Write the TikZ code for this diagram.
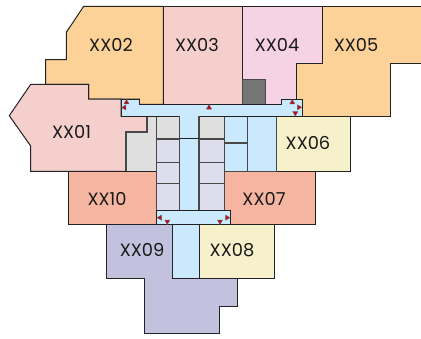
\documentclass[tikz,border=0pt]{standalone}
\usepackage{fontspec}
\setmainfont{Poppins}
\definecolor{orng}{HTML}{FCD299}
\definecolor{pnk}{HTML}{F5CFCB}
\definecolor{mgn}{HTML}{F6D2E5}
\definecolor{crm}{HTML}{F6F0CB}
\definecolor{slm}{HTML}{F5B5A0}
\definecolor{prp}{HTML}{C2C1DE}
\definecolor{blu}{HTML}{CAE9FC}
\definecolor{gry}{HTML}{DFDFDF}
\definecolor{lav}{HTML}{DEDDED}
\definecolor{drk}{HTML}{757575}
\definecolor{edge}{HTML}{222222}
\definecolor{inner}{HTML}{484848}
\definecolor{mark}{HTML}{D00010}
\tikzset{
  room/.style={draw=edge,line width=1pt,line join=miter},
  cell/.style={draw=inner,line width=1.2pt},
  lab/.style={font=\fontsize{17.8}{18}\selectfont,text=black!90,inner sep=0pt},
  tick/.style={fill=mark,draw=black!60,line width=0.5pt}
}
\newcommand{\tup}[2]{\path[tick] (#1-2.5,#2+2.2) -- (#1+2.5,#2+2.2) -- (#1,#2-2.2) -- cycle;}
\newcommand{\tdn}[2]{\path[tick] (#1-2.5,#2-2.2) -- (#1+2.5,#2-2.2) -- (#1,#2+2.2) -- cycle;}
\newcommand{\tlf}[2]{\path[tick] (#1+2.2,#2-2.5) -- (#1+2.2,#2+2.5) -- (#1-2.2,#2) -- cycle;}
\newcommand{\trt}[2]{\path[tick] (#1-2.2,#2-2.5) -- (#1-2.2,#2+2.5) -- (#1+2.2,#2) -- cycle;}
\begin{document}
\begin{tikzpicture}[x=1pt,y=-1pt]
\useasboundingbox (0,0) rectangle (421,338);
\fill[white] (0,0) rectangle (421,338);
% rooms
\draw[room,fill=orng] (83.7,6.3) -- (163.3,6.3) -- (163.3,104.3) -- (139.3,104.3) -- (139.3,99) -- (88.7,99) -- (88.7,84.3) -- (45.7,84.3) -- (45.7,59.7) -- (66.3,59.7) -- (66.3,32.3) -- cycle;
\draw[room,fill=pnk] (163.3,6.3) rectangle (242.3,104.3);
\draw[room,fill=mgn] (242.3,6.3) -- (322.3,6.3) -- (322.3,63.3) -- (296.3,63.3) -- (296.3,99) -- (281,99) -- (281,104.3) -- (242.3,104.3) -- cycle;
\draw[room,fill=orng] (322.3,6.3) -- (422,6.3) -- (422,63.3) -- (390.7,63.3) -- (390.7,116.3) -- (302,116.3) -- (302,99) -- (296.3,99) -- (296.3,63.3) -- (322.3,63.3) -- cycle;
\draw[cell,fill=drk] (242.3,79.7) rectangle (265.7,104.3);
\draw[room,fill=pnk] (30.7,84.3) -- (88.7,84.3) -- (88.7,99) -- (121,99) -- (121,116.3) -- (147,116.3) -- (147,132) -- (126,132) -- (126,171.3) -- (30.7,171.3) -- (30.7,146) -- (9.3,115.7) -- cycle;
\draw[cell,fill=gry] (126,132) -- (147,132) -- (147,116.3) -- (156.7,116.3) -- (156.7,171.3) -- (126,171.3) -- cycle;
\draw[room,fill=crm] (276.3,116.3) rectangle (350.3,171.3);
\draw[room,fill=slm] (68.3,171.3) rectangle (156.7,224.7);
\draw[room,fill=slm] (224.7,171.3) -- (315,171.3) -- (315,224.7) -- (230.3,224.7) -- (230.3,210.3) -- (224.7,210.3) -- cycle;
\draw[room,fill=prp] (106.7,224.7) -- (172.3,224.7) -- (172.3,278.3) -- (237.3,278.3) -- (237.3,306) -- (219.7,306) -- (219.7,333) -- (144.7,333) -- (144.7,278.3) -- (106.7,278.3) -- cycle;
\draw[room,fill=crm] (199.7,224.7) rectangle (274,278.3);
% core cells
\draw[cell,fill=gry] (156.7,116.3) rectangle (179.7,139);
\draw[cell,fill=gry] (199,116.3) rectangle (224.7,139);
\foreach \ya/\yb in {139/162.5,162.5/183.3,183.3/210.3}{
  \draw[cell,fill=lav] (156.7,\ya) rectangle (179.7,\yb);
  \draw[cell,fill=lav] (199,\ya) rectangle (224.7,\yb);
}
\draw[cell,fill=blu] (224.7,116.3) rectangle (247.7,143);
\draw[cell,fill=blu] (224.7,143) rectangle (247.7,171.3);
\draw[cell,fill=blu] (247.7,116.3) rectangle (276.3,171.3);
% corridors
\draw[room,fill=blu] (121,99) -- (139.3,99) -- (139.3,104.3) -- (281,104.3) -- (281,99) -- (302,99) -- (302,116.3) -- (121,116.3) -- cycle;
\draw[cell,fill=blu] (179.7,116.3) rectangle (199,138.5);
\draw[cell,fill=blu] (179.7,138.5) rectangle (199,210.3);
\draw[room] (179.7,138.5) -- (199,138.5);
\draw[room,fill=blu] (156.7,210.3) rectangle (230.3,224.7);
\draw[room,fill=blu] (172.3,224.7) rectangle (199.7,278.3);
\path[fill=blu] (180.4,114) rectangle (198.4,118);
% door marks
\tup{126.5}{101.7}
\tlf{123.7}{107.5}
\tup{209}{106.8}
\tup{292.3}{101.7}
\trt{299.5}{107.3}
\tdn{295.3}{113.8}
\tlf{159.3}{217.7}
\tdn{167.3}{222.2}
\tdn{220}{222.2}
\trt{227.7}{217.7}
% labels
\node[lab] (a) at (111,45) {XX02};
\node[lab] (b) at (197,45) {XX03};
\node[lab] (c) at (277,45) {XX04};
\node[lab] (d) at (356,45) {XX05};
\node[lab] (e) at (71.5,131.5) {XX01};
\node[lab] (f) at (308,143) {XX06};
\node[lab] (g) at (107,199) {XX10};
\node[lab] (h) at (264,199) {XX07};
\node[lab] (i) at (142,250) {XX09};
\node[lab] (j) at (232,250) {XX08};
\end{tikzpicture}
\end{document}
